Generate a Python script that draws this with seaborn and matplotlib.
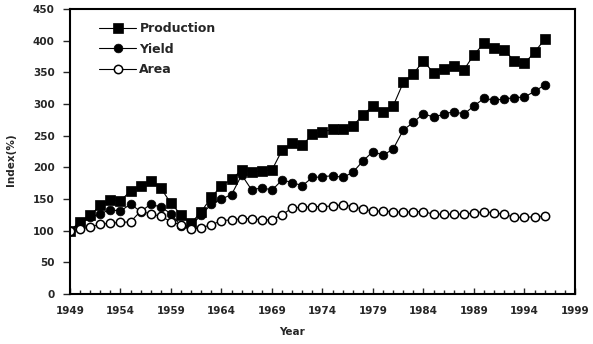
import matplotlib
matplotlib.use("Agg")
import matplotlib.pyplot as plt
import seaborn as sns
import numpy as np
import pandas as pd
from matplotlib.ticker import MultipleLocator

years = list(range(1949, 1997))

production = [100, 114, 124, 140, 148, 147, 163, 170, 179, 167, 143, 125,
              112, 130, 153, 171, 181, 196, 193, 194, 196, 227, 238, 235,
              252, 256, 260, 261, 265, 283, 297, 288, 297, 334, 348, 368,
              349, 356, 360, 354, 378, 396, 388, 385, 368, 364, 382, 402]

yield_ = [100, 111, 121, 127, 133, 131, 142, 130, 142, 137, 127, 107,
          108, 125, 142, 150, 157, 188, 164, 168, 164, 180, 176, 171,
          184, 185, 187, 184, 192, 210, 225, 219, 229, 259, 271, 285,
          279, 284, 288, 284, 297, 309, 306, 308, 310, 311, 320, 330]

area = [100, 102, 106, 110, 112, 113, 114, 131, 126, 123, 114, 109,
        102, 105, 109, 116, 117, 119, 119, 117, 117, 125, 136, 137,
        138, 138, 139, 141, 138, 134, 131, 131, 130, 129, 130, 130,
        126, 126, 126, 126, 128, 130, 128, 126, 121, 121, 122, 123]

series_names = ["Production", "Yield", "Area"]
xtick_labels = ["1949", "1954", "1959", "1964", "1969", "1974",
                "1979", "1984", "1989", "1994", "1999"]

sns.set_style("white")
plt.rcParams["font.family"] = ["DejaVu Sans"]
plt.rcParams["font.weight"] = "bold"

fig = plt.figure(figsize=(5.93, 3.44), dpi=100)
ax = fig.add_axes([70 / 593, 50 / 344, 505 / 593, 285 / 344])

sns.lineplot(x=years, y=production, ax=ax, color="black", lw=0.8,
             marker="s", markersize=7.2, markerfacecolor="black",
             markeredgecolor="black", markeredgewidth=0.5,
             label=series_names[0])
sns.lineplot(x=years, y=yield_, ax=ax, color="black", lw=0.8,
             marker="o", markersize=6.3, markerfacecolor="black",
             markeredgecolor="black", markeredgewidth=0.5,
             label=series_names[1])
sns.lineplot(x=years, y=area, ax=ax, color="black", lw=0.8,
             marker="o", markersize=6.0, markerfacecolor="white",
             markeredgecolor="black", markeredgewidth=1.1,
             label=series_names[2])

ax.set_xlim(1949, 1999)
ax.set_ylim(0, 450)
ax.set_xticks([int(t) for t in xtick_labels])
ax.set_xticklabels(xtick_labels)
ax.xaxis.set_minor_locator(MultipleLocator(1))
ax.yaxis.set_major_locator(MultipleLocator(50))

ax.tick_params(axis="x", which="major", direction="in", length=4, width=1,
               pad=9, labelsize=7.5, bottom=True)
ax.tick_params(axis="x", which="minor", direction="in", length=3, width=1,
               bottom=True)
ax.tick_params(axis="y", which="major", direction="out", length=5, width=1,
               pad=6, labelsize=7.5, left=True)
for lab in ax.get_xticklabels() + ax.get_yticklabels():
    lab.set_fontweight("bold")

for side, sp in ax.spines.items():
    sp.set_visible(True)
    sp.set_color("black")
    sp.set_linewidth(1.5)

ax.set_xlabel("Year", fontsize=7.5, fontweight="bold")
ax.set_ylabel("Index(%)", fontsize=7.5, fontweight="bold")
ax.xaxis.label.set_va("center")
ax.yaxis.label.set_va("center")
ax.xaxis.set_label_coords(0.44, -0.133)
ax.yaxis.set_label_coords(-0.117, 0.47)

leg = ax.legend(loc="upper left", bbox_to_anchor=(0.057, 0.954),
                frameon=False, borderpad=0, borderaxespad=0,
                handlelength=3.0, handletextpad=0.25, labelspacing=0.6,
                prop={"size": 9, "weight": "bold"})

fig.savefig("out.png", dpi=100, facecolor="white")
